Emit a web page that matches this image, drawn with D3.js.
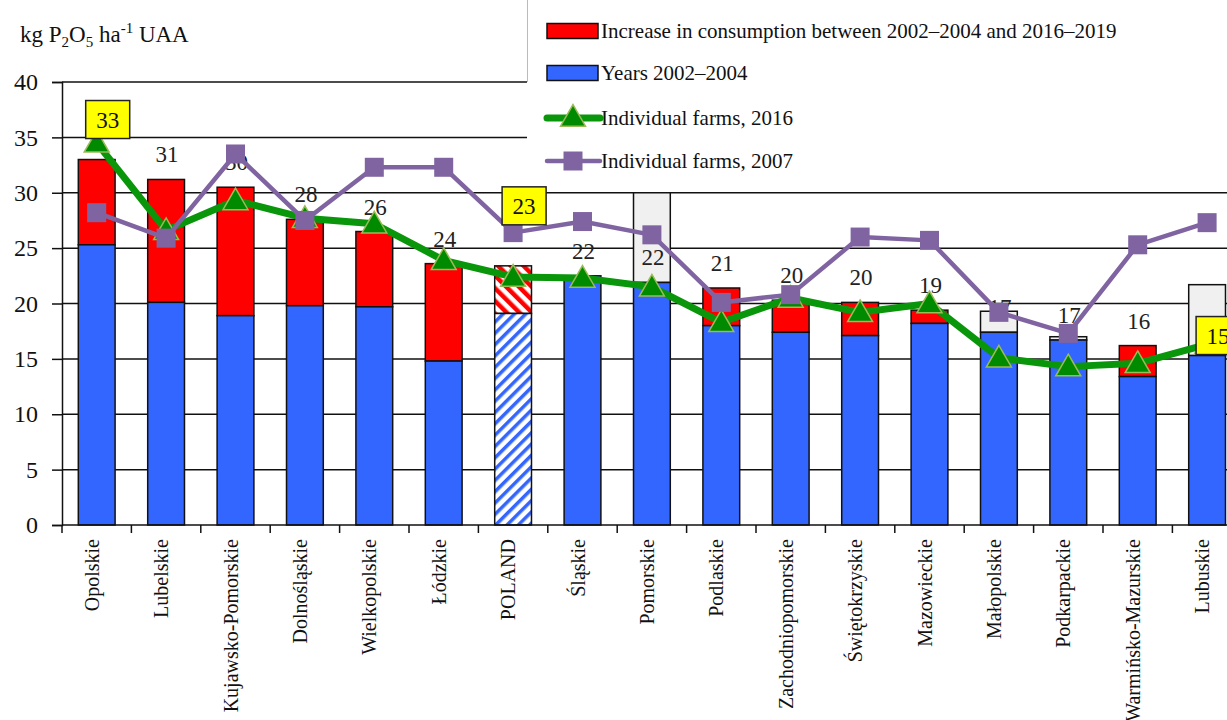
<!DOCTYPE html>
<html>
<head>
<meta charset="utf-8">
<script src="https://cdn.jsdelivr.net/npm/d3@7"></script>
<style>
  html, body { margin: 0; padding: 0; background: #fff; }
  svg { display: block; }
  svg text { font-family: "Liberation Serif", "Times New Roman", serif !important; }
</style>
</head>
<body>
<svg id="chart" width="1227" height="720"></svg>
<script>
const categories = ["Opolskie","Lubelskie","Kujawsko-Pomorskie","Dolnośląskie","Wielkopolskie","Łódzkie","POLAND","Śląskie","Pomorskie","Podlaskie","Zachodniopomorskie","Świętokrzyskie","Mazowieckie","Małopolskie","Podkarpackie","Warmińsko-Mazurskie","Lubuskie"];
const baseValues   = [25.3, 20.1, 18.9, 19.8, 19.7, 14.8, 19.1, 22.5, 21.9, 18.0, 17.4, 17.1, 18.2, 17.4, 16.7, 13.4, 15.3];
const increase     = [7.7, 11.1, 11.6, 7.8, 6.8, 8.8, 4.3, 0, 0, 3.4, 2.9, 3.0, 1.2, 0, 0, 2.8, 0];
const decrease     = [0, 0, 0, 0, 0, 0, 0, 0, 8.1, 0, 0, 0, 0, 1.9, 0.3, 0, 6.4];
const farms2016    = [34.5, 26.6, 29.3, 27.7, 27.2, 23.9, 22.4, 22.3, 21.5, 18.3, 20.5, 19.2, 20.0, 15.1, 14.3, 14.6, 16.3];
const farms2007    = [28.2, 25.9, 33.5, 27.5, 32.3, 32.3, 26.4, 27.4, 26.2, 20.1, 20.8, 26.0, 25.7, 19.2, 17.3, 25.3, 27.3];
const valueLabels  = ["33","31","30","28","26","24","23","22","22","21","20","20","19","17","17","16","15"];
const highlighted  = ["Opolskie","POLAND","Lubuskie"];
const yTicks       = [0, 5, 10, 15, 20, 25, 30, 35, 40];
const legendLabels = ["Increase in consumption between 2002–2004 and 2016–2019","Years 2002–2004","Individual farms, 2016","Individual farms, 2007"];

const W = 1227, H = 720;
const svg = d3.select("#chart");
const FONT = "Liberation Serif";

const x = d3.scaleBand().domain(categories).range([62, 62 + 17 * 69.4]).padding(0);
const y = d3.scaleLinear().domain([0, 40]).range([525, 82]);
const bw = x.bandwidth();
const barW = bw * 0.53;
const cx = c => x(c) + bw / 2;

const BLUE = "#3366ff", RED = "#ff0000", GREEN = "#0a960a", GREEN_EDGE = "#9bbb59", PURPLE = "#8064a2";

// patterns for POLAND
const defs = svg.append("defs");
const pb = defs.append("pattern").attr("id", "hatchBlue").attr("width", 8).attr("height", 8)
  .attr("patternUnits", "userSpaceOnUse").attr("patternTransform", "rotate(45)");
pb.append("rect").attr("width", 8).attr("height", 8).attr("fill", "#fff");
pb.append("rect").attr("width", 3.5).attr("height", 8).attr("fill", BLUE);
const pr = defs.append("pattern").attr("id", "hatchRed").attr("width", 9).attr("height", 9)
  .attr("patternUnits", "userSpaceOnUse").attr("patternTransform", "rotate(-45)");
pr.append("rect").attr("width", 9).attr("height", 9).attr("fill", "#fff");
pr.append("rect").attr("width", 4.5).attr("height", 9).attr("fill", RED);

// y axis
const yAxis = d3.axisLeft(y).tickValues(yTicks).tickSize(10).tickPadding(14).tickFormat(d3.format("d"));
const gy = svg.append("g").attr("transform", "translate(62,0)").call(yAxis).attr("font-family", FONT);
gy.select(".domain").attr("stroke", "#111").attr("stroke-width", 1.5);
gy.selectAll(".tick line").attr("stroke", "#111").attr("stroke-width", 1.5);
gy.selectAll(".tick text").style("font-family", FONT).attr("font-size", 24).attr("fill", "#111");

// gridlines
svg.append("g").selectAll("line").data(yTicks.filter(d => d > 0)).join("line")
  .attr("x1", 62).attr("x2", W).attr("y1", d => y(d)).attr("y2", d => y(d))
  .attr("stroke", "#111").attr("stroke-width", 1.5);

// bars
const rows = categories.map((c, i) => ({c, i, base: baseValues[i], inc: increase[i], dec: decrease[i]}));
const gBars = svg.append("g");
rows.forEach(r => {
  const bx = cx(r.c) - barW / 2;
  const isPL = r.c === "POLAND";
  if (r.dec > 0) {
    gBars.append("rect").attr("x", bx).attr("width", barW)
      .attr("y", y(r.base + r.dec)).attr("height", y(r.base) - y(r.base + r.dec))
      .attr("fill", "#f0f0f0").attr("stroke", "#111").attr("stroke-width", 1.5);
  }
  if (r.inc > 0) {
    gBars.append("rect").attr("x", bx).attr("width", barW)
      .attr("y", y(r.base + r.inc)).attr("height", y(r.base) - y(r.base + r.inc))
      .attr("fill", isPL ? "url(#hatchRed)" : RED).attr("stroke", "#111").attr("stroke-width", 1.5);
  }
  gBars.append("rect").attr("x", bx).attr("width", barW)
    .attr("y", y(r.base)).attr("height", y(0) - y(r.base))
    .attr("fill", isPL ? "url(#hatchBlue)" : BLUE).attr("stroke", "#111").attr("stroke-width", 1.5);
});

// x axis
svg.append("line").attr("x1", 62).attr("x2", W).attr("y1", y(0)).attr("y2", y(0))
  .attr("stroke", "#111").attr("stroke-width", 1.5);
svg.append("g").selectAll("line").data(categories).join("line")
  .attr("x1", c => x(c)).attr("x2", c => x(c)).attr("y1", y(0)).attr("y2", y(0) + 8)
  .attr("stroke", "#111").attr("stroke-width", 1.5);
svg.append("g").selectAll("text").data(categories).join("text")
  .attr("transform", c => `translate(${cx(c) + 2},539) rotate(-90)`)
  .attr("text-anchor", "end")
  .attr("font-size", 20).attr("fill", "#111").text(c => c);

// value labels (plain)
const current = i => baseValues[i] + increase[i];
svg.append("g").selectAll("text").data(categories.filter(c => !highlighted.includes(c))).join("text")
  .attr("x", c => cx(c) + 1)
  .attr("y", c => y(current(categories.indexOf(c))) - 17)
  .attr("text-anchor", "middle").attr("font-size", 23).attr("fill", "#222")
  .text(c => valueLabels[categories.indexOf(c)]);

// lines
const line = d3.line().x(d => cx(d.c)).y(d => y(d.v));
const d16 = categories.map((c, i) => ({c, v: farms2016[i]}));
const d07 = categories.map((c, i) => ({c, v: farms2007[i]}));

const tri = d3.symbol().type(d3.symbolTriangle).size(270);
svg.append("path").datum(d16).attr("d", line).attr("fill", "none")
  .attr("stroke", GREEN).attr("stroke-width", 7).attr("stroke-linejoin", "round");
svg.append("g").selectAll("path").data(d16).join("path")
  .attr("d", tri).attr("transform", d => `translate(${cx(d.c)},${y(d.v) + 2})`)
  .attr("fill", "#008a00").attr("stroke", GREEN_EDGE).attr("stroke-width", 1.5);

svg.append("path").datum(d07).attr("d", line).attr("fill", "none")
  .attr("stroke", PURPLE).attr("stroke-width", 4.5).attr("stroke-linejoin", "round");
svg.append("g").selectAll("rect").data(d07).join("rect")
  .attr("x", d => cx(d.c) - 9.5).attr("y", d => y(d.v) - 9.5).attr("width", 19).attr("height", 19)
  .attr("fill", PURPLE);

// highlighted labels in yellow boxes (vertical label offsets above the bar top)
const boxOffset = {"Opolskie": -40, "POLAND": -60, "Lubuskie": -20};
const gBox = svg.append("g");
highlighted.forEach(c => {
  const i = categories.indexOf(c);
  const bxc = cx(c) + 11, byc = y(current(i)) + boxOffset[c];
  gBox.append("rect").attr("x", bxc - 22).attr("y", byc - 19).attr("width", 44).attr("height", 38)
    .attr("fill", "#ffff00").attr("stroke", "#222").attr("stroke-width", 1.5);
  gBox.append("text").attr("x", bxc).attr("y", byc + 8).attr("text-anchor", "middle")
    .attr("font-size", 23).attr("fill", "#111").text(valueLabels[i]);
});

// legend
const lg = svg.append("g");
lg.append("rect").attr("x", 527).attr("y", 0).attr("width", W - 527).attr("height", 186).attr("fill", "#fff");
lg.append("line").attr("x1", 527.5).attr("x2", 527.5).attr("y1", 0).attr("y2", 82).attr("stroke", "#bbb").attr("stroke-width", 1);
const ly = [31, 73, 118, 161];
lg.append("rect").attr("x", 547).attr("y", ly[0] - 7.5).attr("width", 51).attr("height", 15)
  .attr("fill", RED).attr("stroke", "#111").attr("stroke-width", 1.5);
lg.append("rect").attr("x", 547).attr("y", ly[1] - 7.5).attr("width", 51).attr("height", 15)
  .attr("fill", BLUE).attr("stroke", "#111").attr("stroke-width", 1.5);
lg.append("line").attr("x1", 547).attr("x2", 600).attr("y1", ly[2]).attr("y2", ly[2])
  .attr("stroke", GREEN).attr("stroke-width", 7).attr("stroke-linecap", "round");
lg.append("path").attr("d", tri).attr("transform", `translate(573,${ly[2] + 1})`)
  .attr("fill", "#008a00").attr("stroke", GREEN_EDGE).attr("stroke-width", 1.5);
lg.append("line").attr("x1", 547).attr("x2", 600).attr("y1", ly[3]).attr("y2", ly[3])
  .attr("stroke", PURPLE).attr("stroke-width", 4.5).attr("stroke-linecap", "round");
lg.append("rect").attr("x", 563.5).attr("y", ly[3] - 9.5).attr("width", 19).attr("height", 19).attr("fill", PURPLE);
lg.selectAll("text.leg").data(legendLabels).join("text").attr("class", "leg")
  .attr("x", 601).attr("y", (d, i) => ly[i] + 7).attr("font-size", 21).attr("fill", "#111").text(d => d);

// axis title
const t = svg.append("text").attr("x", 20).attr("y", 42).attr("font-size", 23).attr("fill", "#111");
t.append("tspan").text("kg P");
t.append("tspan").attr("font-size", 15).attr("dy", 5).text("2");
t.append("tspan").attr("dy", -5).text("O");
t.append("tspan").attr("font-size", 15).attr("dy", 5).text("5");
t.append("tspan").attr("dy", -5).text(" ha");
t.append("tspan").attr("font-size", 15).attr("dy", -9).text("-1");
t.append("tspan").attr("dy", 9).text(" UAA");
</script>
</body>
</html>
